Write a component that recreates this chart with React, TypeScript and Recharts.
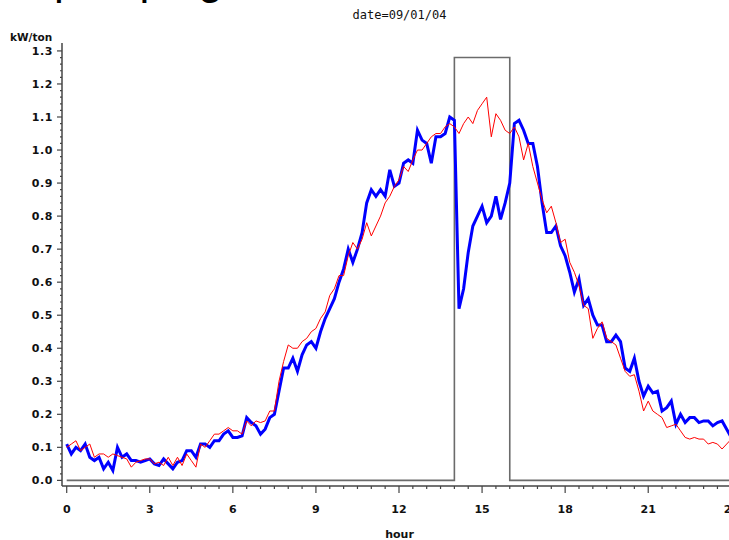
import { Line, LineChart, XAxis, YAxis } from "recharts";

// kW/ton readings every 10 minutes, 0:00 .. 24:00
const baselineKwTon = [
  0.1, 0.11, 0.12, 0.09, 0.1, 0.11, 0.07, 0.08, 0.08, 0.07,
  0.08, 0.075, 0.07, 0.065, 0.04, 0.055, 0.06, 0.065, 0.065, 0.05,
  0.055, 0.045, 0.07, 0.045, 0.07, 0.045, 0.08, 0.06, 0.04, 0.11,
  0.1, 0.12, 0.14, 0.14, 0.15, 0.16, 0.15, 0.15, 0.14, 0.18,
  0.165, 0.18, 0.175, 0.18, 0.21, 0.21, 0.3, 0.36, 0.41, 0.4,
  0.4, 0.42, 0.43, 0.45, 0.46, 0.49, 0.51, 0.56, 0.58, 0.62,
  0.62, 0.68, 0.72, 0.7, 0.73, 0.78, 0.74, 0.77, 0.8, 0.84,
  0.86, 0.89, 0.91, 0.95, 0.935, 0.97, 1.0, 1.0, 1.02, 1.04,
  1.05, 1.05, 1.07, 1.08, 1.07, 1.05, 1.08, 1.1, 1.08, 1.12,
  1.14, 1.16, 1.04, 1.11, 1.09, 1.06, 1.05, 1.07, 1.04, 0.97,
  1.02, 0.95, 0.9, 0.85, 0.81, 0.83, 0.78, 0.72, 0.73, 0.66,
  0.63, 0.59, 0.53, 0.52, 0.43, 0.46, 0.48, 0.43, 0.42, 0.41,
  0.37, 0.33, 0.315, 0.32, 0.27, 0.21, 0.24, 0.21, 0.2, 0.19,
  0.16, 0.165, 0.17, 0.15, 0.13, 0.125, 0.13, 0.125, 0.125, 0.11,
  0.115, 0.11, 0.095, 0.11, 0.125,
];

const measuredKwTon = [
  0.11, 0.08, 0.1, 0.09, 0.11, 0.07, 0.06, 0.07, 0.035, 0.055,
  0.03, 0.1, 0.07, 0.08, 0.06, 0.06, 0.055, 0.06, 0.065, 0.05,
  0.045, 0.065, 0.05, 0.035, 0.055, 0.06, 0.09, 0.09, 0.07, 0.11,
  0.11, 0.1, 0.12, 0.12, 0.14, 0.15, 0.13, 0.13, 0.135, 0.19,
  0.175, 0.165, 0.14, 0.155, 0.19, 0.2, 0.27, 0.34, 0.34, 0.37,
  0.33, 0.38, 0.41, 0.42, 0.4, 0.45, 0.49, 0.52, 0.55, 0.6,
  0.64, 0.7, 0.66, 0.7, 0.75, 0.84, 0.88, 0.86, 0.88, 0.86,
  0.94, 0.89, 0.9, 0.96, 0.97, 0.96, 1.06, 1.03, 1.02, 0.96,
  1.04, 1.04, 1.05, 1.1, 1.09, 0.52, 0.58, 0.69, 0.77, 0.8,
  0.83, 0.78, 0.8, 0.86, 0.79, 0.84, 0.9, 1.08, 1.09, 1.06,
  1.02, 1.02, 0.95, 0.84, 0.75, 0.75, 0.77, 0.71, 0.68, 0.63,
  0.57, 0.61, 0.53, 0.55, 0.5, 0.47, 0.47, 0.42, 0.42, 0.44,
  0.42, 0.34, 0.33, 0.37, 0.3, 0.255, 0.285, 0.265, 0.27, 0.21,
  0.22, 0.24, 0.17, 0.2, 0.175, 0.19, 0.19, 0.175, 0.18, 0.18,
  0.165, 0.175, 0.18, 0.155, 0.13,
];

// event window (step)
const eventHours = [0, 14, 16, 24.3];
const eventLevels = [0, 1.28, 0, 0];

const hourTicks = Array.from({ length: 49 }, (_, i) => i / 2);
const kwTicks = Array.from({ length: 66 }, (_, i) => Math.round(i * 2) / 100);

const data = measuredKwTon.map((v, i) => ({
  hour: i / 6,
  measured: v,
  baseline: baselineKwTon[i],
}));
const eventData = eventHours.map((h, i) => ({ hour: h, level: eventLevels[i] }));

const axisColor = "#444";
const labelFont = {
  fontFamily: "DejaVu Sans, sans-serif",
  fontWeight: 700,
  fontSize: 11,
  fill: "#111",
};

function HourTick({ x, y, payload }: any) {
  const v = payload.value;
  const major = Math.abs(v % 3) < 1e-6;
  return (
    <g>
      <line x1={x} x2={x} y1={y} y2={y + (major ? 7 : 3)} stroke={axisColor} strokeWidth={1.2} />
      {major && (
        <text x={x} y={y + 27} textAnchor="middle" style={labelFont}>
          {v}
        </text>
      )}
    </g>
  );
}

function KwTick({ x, y, payload }: any) {
  const v = payload.value;
  const major = Math.round(v * 50) % 5 === 0;
  return (
    <g>
      <line x1={x - (major ? 5 : 2)} x2={x} y1={y} y2={y} stroke={axisColor} strokeWidth={1.2} />
      {major && (
        <text x={x - 9} y={y + 4} textAnchor="end" letterSpacing={0.6} style={labelFont}>
          {v.toFixed(1)}
        </text>
      )}
    </g>
  );
}

const textBase: React.CSSProperties = {
  position: "absolute",
  fontFamily: "DejaVu Sans, sans-serif",
  fontWeight: 700,
  fontSize: 11,
  color: "#111",
  lineHeight: 1,
  whiteSpace: "nowrap",
};

export default function App() {
  return (
    <div
      style={{
        position: "fixed",
        left: 0,
        top: 0,
        width: 729,
        height: 540,
        overflow: "hidden",
        background: "#fff",
      }}
    >
      <div
        style={{
          position: "absolute",
          left: 54,
          top: -43,
          fontFamily: "Liberation Sans, Arial, sans-serif",
          fontSize: 44,
          lineHeight: 1,
          color: "#000",
        }}
      >
        pumping
      </div>
      <LineChart width={760} height={540} data={data} margin={{ top: 43, right: 24, bottom: 0, left: 0 }}>
        <XAxis
          xAxisId="top"
          orientation="top"
          type="number"
          dataKey="hour"
          domain={[-0.17, 24.17]}
          allowDataOverflow
          height={0}
          tick={false}
          tickLine={false}
          axisLine={{ stroke: axisColor, strokeWidth: 1.5 }}
        />
        <XAxis
          dataKey="hour"
          type="number"
          domain={[-0.17, 24.17]}
          allowDataOverflow
          ticks={hourTicks}
          interval={0}
          height={54}
          tickSize={0}
          tickMargin={0}
          tickLine={false}
          tick={<HourTick />}
          axisLine={{ stroke: axisColor, strokeWidth: 1.5 }}
        />
        <YAxis
          type="number"
          domain={[-0.017, 1.324]}
          allowDataOverflow
          ticks={kwTicks}
          interval={0}
          width={62}
          tickSize={0}
          tickMargin={0}
          tickLine={false}
          tick={<KwTick />}
          axisLine={{ stroke: axisColor, strokeWidth: 1.5 }}
        />
        <Line
          data={eventData}
          dataKey="level"
          type="stepAfter"
          stroke="#6b6b6b"
          strokeWidth={1.6}
          dot={false}
          isAnimationActive={false}
        />
        <Line
          dataKey="measured"
          type="linear"
          stroke="#0000ff"
          strokeWidth={3}
          dot={false}
          isAnimationActive={false}
        />
        <Line
          dataKey="baseline"
          type="linear"
          stroke="#ff0000"
          strokeWidth={1}
          dot={false}
          isAnimationActive={false}
        />
      </LineChart>
      <div
        style={{
          ...textBase,
          left: 0,
          width: 799,
          top: 9,
          textAlign: "center",
          fontFamily: "DejaVu Sans Mono, monospace",
          fontWeight: 400,
          fontSize: 12,
        }}
      >
        date=09/01/04
      </div>
      <div style={{ ...textBase, left: 10, top: 32, fontSize: 10.5 }}>kW/ton</div>
      <div style={{ ...textBase, left: 0, width: 799, top: 529, textAlign: "center" }}>hour</div>
    </div>
  );
}
